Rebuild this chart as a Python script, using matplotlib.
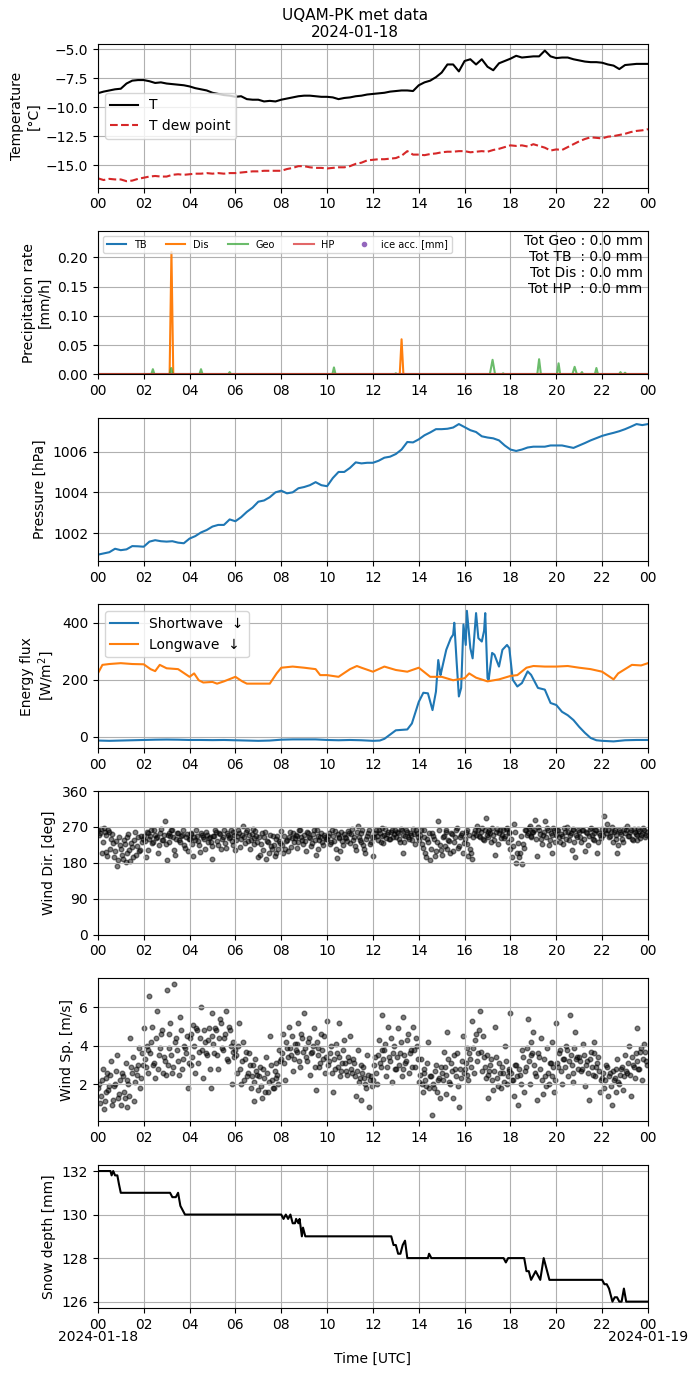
#!/usr/bin/env python3
# -*- coding: utf-8 -*-

import matplotlib
matplotlib.use('Agg')
import matplotlib.pyplot as plt
import matplotlib.transforms as mtransforms
import numpy as np

# --- temperature, 15 min steps (degC) ---
temp = [-8.79, -8.65, -8.55, -8.45, -8.4, -7.95, -7.7, -7.65,
        -7.65, -7.75, -7.9, -7.85, -7.95, -8.0, -8.05, -8.1,
        -8.2, -8.35, -8.45, -8.55, -8.75, -8.85, -8.95, -9.0,
        -9.1, -9.05, -9.3, -9.35, -9.35, -9.5, -9.45, -9.5,
        -9.35, -9.25, -9.15, -9.05, -9.0, -9.0, -9.05, -9.1,
        -9.1, -9.15, -9.3, -9.2, -9.15, -9.05, -9.0, -8.9,
        -8.85, -8.8, -8.75, -8.65, -8.6, -8.55, -8.55, -8.6,
        -8.1, -7.85, -7.7, -7.4, -7.0, -6.3, -6.3, -6.9,
        -6.0, -5.85, -6.3, -5.85, -6.5, -6.8, -6.2, -6.0,
        -5.8, -5.55, -5.7, -5.65, -5.6, -5.6, -5.1, -5.6,
        -5.75, -5.7, -5.7, -5.85, -5.95, -6.05, -6.1, -6.1,
        -6.15, -6.3, -6.4, -6.7, -6.35, -6.3, -6.25, -6.25, -6.25]
dew = [-16.15, -16.3, -16.2, -16.25, -16.25, -16.4, -16.35, -16.2,
       -16.1, -16.0, -15.95, -16.0, -16.0, -15.85, -15.8, -15.85,
       -15.8, -15.75, -15.75, -15.7, -15.75, -15.7, -15.75, -15.7,
       -15.7, -15.65, -15.6, -15.55, -15.55, -15.5, -15.5, -15.5,
       -15.5, -15.35, -15.25, -15.1, -15.1, -15.2, -15.25, -15.25,
       -15.3, -15.25, -15.2, -15.2, -15.1, -14.9, -14.8, -14.6,
       -14.55, -14.5, -14.5, -14.45, -14.4, -14.2, -13.8, -14.1,
       -14.1, -14.15, -14.05, -14.0, -13.9, -13.85, -13.85, -13.8,
       -13.8, -13.9, -13.85, -13.8, -13.85, -13.7, -13.6, -13.45,
       -13.3, -13.35, -13.3, -13.4, -13.2, -13.35, -13.5, -13.75,
       -13.65, -13.7, -13.45, -13.2, -12.95, -12.75, -12.6, -12.65,
       -12.7, -12.55, -12.5, -12.4, -12.3, -12.15, -12.05, -12.0, -11.9]

# --- precipitation rate (mm/h) ---
tb_t = [0, 24]
tb = [0.0, 0.0]
hp_t = [0, 24]
hp = [0.0, 0.0]
dis_t = [0, 3.13, 3.21, 3.29, 13.17, 13.25, 13.33, 24]
dis = [0, 0, 0.209, 0, 0, 0.06, 0, 0]
geo_t = [0, 2.33, 2.4, 2.47, 3.13, 3.2, 3.27, 4.43, 4.5, 4.57,
         5.68, 5.75, 5.82, 10.23, 10.3, 10.37, 12.93, 13.0, 13.07,
         17.1, 17.22, 17.33, 17.62, 17.68, 17.75, 19.17, 19.25, 19.33,
         20.03, 20.1, 20.17, 20.7, 20.8, 20.9, 21.05, 21.12, 21.18,
         21.68, 21.75, 21.82, 22.73, 22.8, 22.87, 22.93, 23.0, 23.07, 24]
geo = [0, 0, 0.009, 0, 0, 0.011, 0, 0, 0.009, 0,
       0, 0.004, 0, 0, 0.012, 0, 0, 0.002, 0,
       0, 0.025, 0, 0, 0.002, 0, 0, 0.026, 0,
       0, 0.019, 0, 0, 0.013, 0, 0, 0.004, 0,
       0, 0.011, 0, 0, 0.004, 0, 0, 0.003, 0, 0]
ice_t = []
ice = []
totals = {'Geo': 0.0, 'TB ': 0.0, 'Dis': 0.0, 'HP ': 0.0}

# --- pressure, 15 min steps (hPa) ---
pres = [1000.94, 1001.0, 1001.06, 1001.23, 1001.16, 1001.2, 1001.36, 1001.35,
        1001.33, 1001.58, 1001.65, 1001.6, 1001.58, 1001.6, 1001.53, 1001.5,
        1001.73, 1001.85, 1002.03, 1002.15, 1002.32, 1002.4, 1002.4, 1002.67,
        1002.58, 1002.78, 1003.04, 1003.25, 1003.54, 1003.6, 1003.76, 1004.0,
        1004.08, 1003.95, 1004.0, 1004.2, 1004.26, 1004.35, 1004.5, 1004.35,
        1004.3, 1004.7, 1005.0, 1005.0, 1005.2, 1005.47, 1005.42, 1005.45,
        1005.45, 1005.55, 1005.7, 1005.75, 1005.88, 1006.1, 1006.47, 1006.45,
        1006.6, 1006.8, 1006.94, 1007.1, 1007.1, 1007.12, 1007.18, 1007.35,
        1007.2, 1007.05, 1006.96, 1006.75, 1006.69, 1006.65, 1006.55, 1006.3,
        1006.1, 1006.03, 1006.1, 1006.2, 1006.24, 1006.24, 1006.24, 1006.3,
        1006.3, 1006.3, 1006.24, 1006.18, 1006.3, 1006.42, 1006.55, 1006.66,
        1006.77, 1006.85, 1006.92, 1007.0, 1007.1, 1007.22, 1007.35, 1007.3, 1007.35]

# --- radiation (W/m2) ---
sw_t = [0, 0.5, 1, 1.5, 2, 2.5, 3, 3.5, 4, 4.5, 5, 5.5, 6, 6.5, 7, 7.5,
        8, 8.5, 9, 9.5, 10, 10.5, 11, 11.5, 12,
        12.3, 12.5, 12.8, 13.0, 13.5, 13.7,
        14.0, 14.2, 14.4, 14.6, 14.75, 14.85, 14.95,
        15.0, 15.2, 15.4, 15.5, 15.55, 15.65, 15.75, 15.85, 15.95,
        16.05, 16.1, 16.25, 16.35, 16.5, 16.6, 16.75, 16.85, 16.9,
        17.0, 17.05, 17.2, 17.3, 17.5, 17.65, 17.85, 17.95,
        18.1, 18.3, 18.5, 18.75, 18.9, 19.2, 19.5, 19.75,
        20.0, 20.25, 20.5, 20.75, 21.0, 21.25, 21.5, 21.75,
        22.0, 22.5, 23.0, 23.5, 24.0]
sw = [-14, -15, -14, -13, -12, -11, -10.5, -11, -12, -12, -12.5, -12, -13, -14, -15, -14,
      -11, -10, -10, -10, -12, -13, -12, -13, -15,
      -14, -8, 10, 22, 25, 46,
      122, 154, 152, 93, 158, 269, 216,
      234, 305, 346, 358, 400, 265, 141, 171, 394,
      322, 442, 311, 275, 434, 346, 334, 372, 434,
      205, 200, 294, 288, 246, 305, 322, 311,
      200, 176, 188, 229, 217, 171, 165, 118,
      111, 87, 75, 58, 34, 13, -5, -13,
      -15, -17, -13, -12, -12]
lw_t = [0, 0.2, 0.5, 1.0, 1.5, 2.0, 2.3, 2.5, 2.7, 3.0, 3.5,
        4.0, 4.2, 4.4, 4.6, 5.0, 5.2, 5.5, 6.0, 6.3, 6.5, 7.0, 7.5, 7.8,
        8.0, 8.5, 9.0, 9.5, 9.7, 10.0, 10.5, 11.0, 11.3, 11.5, 12.0, 12.5,
        13.0, 13.5, 14.0, 14.5, 15.0, 15.5, 16.0, 16.2, 16.5, 17.0, 17.5,
        18.0, 18.3, 18.7, 19.0, 19.5, 20.0, 20.5, 21.0, 21.5,
        22.0, 22.5, 22.7, 23.0, 23.3, 23.7, 24.0]
lw = [222, 252, 255, 258, 255, 254, 237, 230, 252, 240, 237,
      210, 222, 198, 190, 192, 186, 194, 210, 194, 186, 186, 186, 222,
      242, 246, 242, 237, 216, 216, 210, 237, 248, 242, 228, 246,
      234, 228, 242, 210, 210, 198, 205, 222, 207, 194, 201,
      213, 216, 242, 248, 246, 246, 248, 242, 237,
      228, 201, 222, 237, 252, 250, 258]

# --- wind, 5 min steps (first set on the full 5 min, second set 2.5 min later) ---
wdir = [262, 255, 205, 268, 250, 196, 258, 240, 230, 210, 172, 245,
        215, 190, 228, 205, 252, 185, 220, 238, 200, 245, 212, 232,
        248, 195, 255, 240, 262, 232, 250, 245, 225, 265, 238, 285,
        188, 255, 248, 262, 212, 240, 255, 232, 250, 225, 245, 210,
        240, 252, 198, 238, 248, 225, 255, 245, 215, 250, 242, 232,
        190, 248, 258, 225, 252, 240, 262, 218, 250, 245, 235, 258,
        212, 248, 255, 240, 272, 230, 262, 250, 238, 265, 228, 248,
        195, 200, 255, 245, 190, 232, 250, 215, 225, 205, 248, 235,
        260, 205, 215, 238, 245, 220, 255, 242, 248, 232, 262, 238,
        250, 210, 255, 242, 230, 262, 200, 248, 238, 255, 225, 245,
        240, 255, 232, 248, 260, 192, 245, 210, 235, 252, 242, 260,
        230, 265, 245, 212, 272, 238, 255, 225, 205, 248, 262, 232,
        198, 255, 248, 262, 232, 268, 250, 242, 258, 240, 262, 252,
        245, 255, 232, 262, 205, 248, 258, 240, 250, 265, 228, 255,
        238, 262, 218, 245, 195, 232, 188, 255, 240, 210, 285, 225,
        200, 248, 262, 215, 235, 255, 210, 245, 268, 222, 250, 205,
        240, 262, 198, 215, 190, 255, 250, 262, 245, 268, 238, 292,
        258, 262, 232, 250, 200, 265, 255, 242, 262, 248, 268, 255,
        215, 195, 278, 180, 230, 205, 178, 218, 262, 255, 272, 248,
        258, 288, 198, 262, 240, 250, 285, 268, 225, 255, 205, 262,
        250, 262, 232, 248, 268, 240, 258, 250, 212, 265, 195, 245,
        258, 232, 262, 210, 255, 248, 268, 240, 255, 262, 232, 250,
        265, 298, 255, 262, 248, 270, 258, 240, 205, 262, 252, 232,
        255, 272, 248, 262, 238, 258, 250, 265, 242, 255, 262, 250]
wdir2 = [250, 265, 232, 258, 208, 262, 215, 252, 195, 235, 188, 225,
         200, 238, 182, 246, 212, 230, 195, 258, 222, 210, 248, 240,
         236, 258, 212, 248, 230, 262, 242, 205, 255, 238, 250, 228,
         250, 232, 262, 244, 200, 256, 238, 248, 262, 218, 252, 240,
         255, 228, 246, 262, 236, 208, 250, 240, 258, 232, 246, 222,
         248, 262, 236, 255, 215, 244, 230, 256, 242, 262, 225, 250,
         238, 262, 220, 250, 246, 258, 236, 215, 252, 242, 260, 232,
         245, 228, 212, 258, 235, 205, 222, 248, 198, 240, 215, 230,
         225, 248, 236, 210, 258, 242, 232, 250, 218, 262, 245, 228,
         236, 258, 246, 222, 252, 238, 262, 215, 244, 232, 250, 240,
         248, 228, 262, 236, 215, 252, 242, 258, 225, 246, 234, 255,
         252, 238, 222, 258, 246, 232, 262, 215, 240, 255, 228, 246,
         245, 262, 238, 255, 248, 230, 265, 252, 240, 258, 246, 262,
         258, 240, 266, 250, 232, 262, 246, 255, 238, 252, 262, 244,
         250, 228, 262, 205, 240, 255, 215, 248, 198, 232, 262, 212,
         245, 222, 258, 238, 205, 252, 232, 262, 218, 245, 256, 230,
         258, 228, 250, 205, 245, 262, 272, 248, 258, 240, 262, 250,
         246, 255, 268, 238, 258, 228, 262, 250, 242, 265, 232, 258,
         240, 222, 258, 205, 195, 248, 228, 262, 250, 268, 245, 258,
         262, 240, 270, 252, 228, 258, 245, 262, 238, 250, 268, 232,
         262, 245, 252, 228, 258, 270, 238, 255, 262, 232, 250, 262,
         246, 262, 240, 258, 225, 265, 250, 238, 262, 205, 256, 242,
         250, 262, 278, 245, 258, 232, 262, 250, 225, 258, 240, 265,
         262, 248, 258, 240, 265, 252, 238, 260, 250, 268, 245, 258]
wspd = [1.8, 1.0, 2.2, 0.7, 1.6, 2.6, 1.9, 3.2, 1.2, 2.0, 3.5, 1.5,
        0.9, 2.4, 1.3, 0.8, 2.0, 4.4, 2.6, 1.1, 2.8, 3.0, 1.8, 3.6,
        4.9, 2.9, 3.8, 6.6, 4.2, 3.0, 2.3, 5.8, 3.5, 4.6, 2.6, 3.2,
        6.9, 3.9, 5.2, 2.6, 7.2, 4.4, 3.2, 5.5, 2.8, 4.0, 3.6, 1.8,
        4.4, 3.0, 5.1, 2.6, 4.8, 3.7, 6.0, 2.3, 4.2, 3.5, 4.9, 1.8,
        5.7, 3.6, 4.8, 2.8, 5.4, 3.9, 4.4, 5.8, 3.2, 4.8, 2.0, 4.2,
        3.8, 2.6, 5.2, 2.0, 4.2, 3.3, 2.4, 3.6, 1.8, 3.0, 1.1, 2.7,
        1.7, 2.9, 1.3, 2.3, 3.4, 1.6, 4.5, 2.2, 1.8, 3.1, 2.5, 3.8,
        3.3, 4.6, 2.2, 3.9, 5.0, 3.5, 2.7, 4.1, 3.7, 5.2, 2.9, 4.4,
        5.7, 3.4, 4.2, 2.5, 3.7, 4.9, 1.7, 3.9, 2.9, 4.6, 3.3, 2.6,
        5.3, 3.2, 4.0, 1.6, 2.8, 3.6, 5.2, 2.4, 3.1, 4.3, 2.7, 3.4,
        4.5, 2.6, 3.1, 1.4, 3.8, 2.3, 1.2, 2.9, 2.0, 3.5, 0.8, 2.4,
        2.2, 3.4, 2.0, 4.3, 2.9, 5.6, 3.8, 2.4, 5.0, 3.2, 2.1, 4.0,
        2.8, 4.9, 3.6, 2.4, 5.5, 3.1, 4.3, 2.6, 3.8, 5.0, 2.9, 4.0,
        2.1, 3.3, 1.6, 2.6, 1.9, 4.2, 2.4, 0.4, 1.8, 3.0, 2.2, 1.3,
        2.6, 3.7, 1.5, 4.7, 2.1, 3.1, 1.3, 2.8, 3.6, 0.8, 2.3, 4.5,
        2.8, 3.9, 2.2, 3.3, 5.3, 2.6, 4.6, 3.6, 5.8, 2.7, 3.4, 2.3,
        1.3, 2.7, 3.3, 1.7, 5.0, 2.3, 3.1, 1.8, 2.6, 4.0, 2.0, 2.8,
        5.7, 2.2, 1.4, 3.0, 0.9, 2.5, 3.8, 1.6, 2.9, 5.4, 2.0, 3.5,
        4.7, 2.6, 1.2, 3.4, 4.4, 1.5, 2.4, 3.9, 2.0, 3.1, 4.2, 1.6,
        5.2, 2.9, 3.8, 2.0, 3.3, 4.0, 2.4, 5.6, 3.0, 2.1, 4.7, 3.4,
        3.4, 2.7, 4.1, 1.9, 3.2, 1.2, 3.7, 2.5, 4.2, 2.9, 3.4, 1.6,
        2.3, 1.8, 3.0, 1.4, 2.6, 0.9, 2.2, 1.6, 3.3, 2.0, 2.8, 1.7,
        3.5, 2.6, 4.0, 1.4, 3.0, 2.3, 4.9, 2.8, 3.7, 2.2, 4.1, 3.2]
wspd2 = [2.0, 1.4, 2.8, 1.1, 2.3, 1.7, 2.5, 0.9, 1.9, 2.7, 1.3, 2.2,
         2.6, 1.6, 3.1, 2.2, 1.4, 2.9, 3.4, 2.1, 2.5, 3.9, 2.3, 3.0,
         3.3, 4.0, 2.6, 3.6, 5.0, 3.1, 4.4, 2.8, 3.9, 4.8, 3.4, 2.5,
         3.0, 4.6, 3.5, 2.9, 4.2, 3.8, 2.5, 4.8, 3.3, 3.9, 4.5, 3.1,
         4.6, 3.4, 4.0, 4.9, 3.1, 4.4, 3.8, 4.8, 3.6, 4.3, 2.8, 4.5,
         4.1, 4.9, 3.5, 4.4, 5.2, 3.8, 4.6, 3.3, 5.0, 4.0, 3.7, 3.4,
         3.5, 4.0, 2.8, 3.2, 2.2, 3.7, 2.6, 3.0, 2.4, 2.1, 3.3, 2.5,
         2.4, 1.9, 2.8, 1.6, 2.6, 2.1, 3.0, 1.8, 2.7, 2.3, 2.0, 3.2,
         3.6, 3.1, 4.2, 3.4, 3.9, 4.5, 3.3, 3.8, 4.1, 3.2, 4.6, 3.7,
         3.9, 3.2, 4.4, 3.6, 4.0, 2.9, 4.2, 3.5, 3.1, 3.8, 4.5, 3.4,
         3.0, 3.6, 2.6, 3.3, 4.1, 2.9, 3.4, 2.7, 3.8, 3.1, 2.5, 3.2,
         2.8, 3.3, 2.4, 2.7, 2.1, 3.0, 2.6, 2.3, 1.8, 2.5, 2.2, 1.9,
         3.0, 2.6, 3.5, 3.1, 3.8, 3.3, 4.1, 2.9, 3.4, 4.4, 3.6, 2.8,
         3.4, 3.0, 4.2, 2.8, 3.5, 3.2, 4.6, 3.6, 2.9, 3.8, 4.4, 3.3,
         2.5, 2.0, 2.8, 2.2, 3.1, 1.8, 2.4, 2.0, 2.7, 1.6, 2.3, 2.9,
         2.2, 2.9, 2.5, 3.3, 2.0, 2.7, 3.5, 2.4, 1.9, 2.8, 3.2, 2.6,
         3.1, 2.5, 3.6, 2.9, 3.9, 4.3, 3.2, 4.8, 3.7, 4.5, 2.9, 3.5,
         2.5, 3.0, 2.2, 2.7, 3.4, 1.9, 2.6, 2.9, 2.1, 3.2, 2.4, 2.7,
         2.6, 2.2, 3.0, 2.4, 2.8, 2.0, 3.4, 2.7, 3.9, 3.2, 4.2, 3.6,
         3.0, 2.4, 3.6, 2.8, 2.2, 3.3, 1.9, 2.6, 3.1, 2.4, 2.9, 2.2,
         3.1, 3.6, 2.7, 3.3, 2.9, 3.8, 3.2, 3.5, 2.6, 3.9, 3.3, 2.8,
         3.2, 2.8, 3.5, 3.0, 2.6, 3.3, 2.9, 3.6, 2.4, 3.1, 2.7, 2.2,
         2.6, 2.2, 2.9, 2.4, 1.9, 2.7, 2.3, 2.8, 2.1, 2.5, 2.9, 2.4,
         2.7, 3.1, 2.5, 3.4, 2.9, 3.6, 3.2, 2.8, 3.9, 3.3, 3.7, 3.0]

# --- snow depth (mm) ---
snow_t = [0, 0.55, 0.6, 0.67, 0.75, 0.85, 0.92, 1.0,
          3.15, 3.25, 3.4, 3.5, 3.6, 3.7, 3.8,
          8.0, 8.1, 8.2, 8.3, 8.4, 8.5, 8.6, 8.65, 8.75, 8.8, 8.9, 8.95, 9.05,
          12.8, 12.9, 13.0, 13.1, 13.2, 13.3, 13.4, 13.5,
          14.4, 14.45, 14.55, 17.7, 17.8, 17.9,
          18.6, 18.7, 18.8, 18.9, 19.0, 19.1, 19.2, 19.3, 19.45, 19.6, 19.7,
          22.0, 22.1, 22.2, 22.3, 22.45, 22.55, 22.65, 22.75, 22.85, 22.95, 23.05,
          24.0]
snow = [132, 132, 131.8, 132, 131.8, 131.8, 131.4, 131,
        131, 130.8, 130.8, 131, 130.4, 130.2, 130,
        130, 129.8, 130, 129.8, 130, 129.6, 129.6, 129.8, 129.6, 129.8, 129, 129.4, 129,
        129, 128.6, 128.6, 128.2, 128.2, 128.6, 128.8, 128,
        128, 128.2, 128, 128, 127.8, 128,
        128, 127.4, 127.4, 127, 127.2, 127.4, 127.2, 127, 128, 127.4, 127,
        127, 126.8, 126.8, 126.6, 126, 126.2, 126.2, 126, 126, 126.6, 126,
        126]

hour_ticks = np.arange(0, 25, 2)
hour_labels = ['%02d' % (h % 24) for h in hour_ticks]
day_labels = ['2024-01-18', '2024-01-19']


def main():
    t15 = np.arange(len(temp)) * 0.25
    t5 = np.arange(len(wdir)) / 12.0
    t5b = t5 + 2.5 / 60.0
    tw = np.concatenate([t5, t5b])

    fig, axes = plt.subplots(7, 1, figsize=(6.99, 13.77), dpi=100)
    fig.subplots_adjust(left=0.140, right=0.927, top=0.968, bottom=0.050, hspace=0.30)
    fig.suptitle('UQAM-PK met data\n2024-01-18', x=0.508, y=0.9945, va='top', fontsize=11)

    # temperature
    ax = axes[0]
    ax.plot(t15, temp, 'k-', lw=1.5, label='T')
    ax.plot(t15, dew, '--', color='tab:red', lw=1.5, label='T dew point')
    ax.set_ylabel('Temperature\n[°C]')
    ax.legend(loc='center left')

    # precipitation
    ax = axes[1]
    ax.plot(tb_t, tb, color='C0', lw=1.5, label='TB')
    ax.plot(dis_t, dis, color='C1', lw=1.5, label='Dis')
    ax.plot(geo_t, geo, color='C2', lw=1.5, alpha=0.7, label='Geo')
    ax.plot(hp_t, hp, color='C3', lw=1.5, alpha=0.7, label='HP')
    ax.plot(ice_t, ice, 'o', color='C4', ms=3, label='ice acc. [mm]')
    ax.set_ylim(0, 0.245)
    ax.set_ylabel('Precipitation rate\n[mm/h]')
    ax.legend(loc='upper left', ncol=5, fontsize=7)
    txt = '\n'.join('Tot %s : %.1f mm' % (k, v) for k, v in totals.items())
    ax.text(0.99, 0.98, txt, transform=ax.transAxes, ha='right', va='top', fontsize=10)

    # pressure
    ax = axes[2]
    ax.plot(t15, pres, color='C0', lw=1.5)
    ax.set_ylabel('Pressure [hPa]')

    # radiation
    ax = axes[3]
    ax.plot(sw_t, sw, color='C0', lw=1.5, label='Shortwave  ↓')
    ax.plot(lw_t, lw, color='C1', lw=1.5, label='Longwave  ↓')
    ax.set_ylabel('Energy flux\n[W/m$^2$]')
    ax.legend(loc='upper left')

    # wind direction
    ax = axes[4]
    ax.scatter(tw, wdir + wdir2, s=11, c='k', alpha=0.5)
    ax.set_ylim(0, 360)
    ax.set_yticks([0, 90, 180, 270, 360])
    ax.set_ylabel('Wind Dir. [deg]')

    # wind speed
    ax = axes[5]
    ax.scatter(tw, wspd + wspd2, s=11, c='k', alpha=0.5)
    ax.set_yticks([2, 4, 6])
    ax.set_ylabel('Wind Sp. [m/s]')

    # snow depth
    ax = axes[6]
    ax.plot(snow_t, snow, 'k-', lw=1.5)
    ax.set_yticks([126, 128, 130, 132])
    ax.set_ylabel('Snow depth [mm]')
    ax.set_xlabel('Time [UTC]')
    ax.xaxis.set_label_coords(0.5, -0.305)

    for ax in axes:
        ax.set_xlim(0, 24)
        ax.set_xticks(hour_ticks)
        ax.set_xticklabels(hour_labels)
        ax.grid(True)

    # day labels under the first and last ticks
    trans = mtransforms.blended_transform_factory(axes[-1].transData, axes[-1].transAxes)
    for x, lab in zip([0, 24], day_labels):
        axes[-1].text(x, -0.15, lab, transform=trans, ha='center', va='top', fontsize=10)

    plt.savefig('out.png', dpi=100)


if __name__ == "__main__":
    main()
